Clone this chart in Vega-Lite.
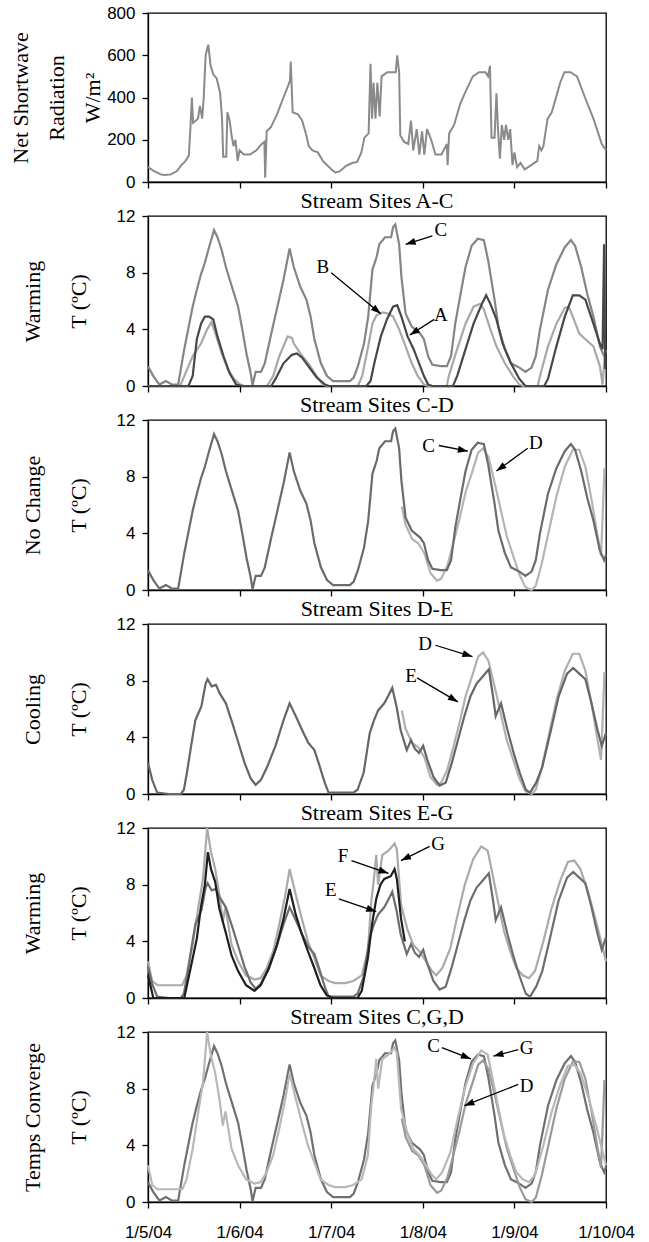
{
"$schema": "https://vega.github.io/schema/vega-lite/v6.json",
"background": "white",
"padding": {"left": 8, "top": 3, "right": 5, "bottom": 5},
"spacing": -2,
"datasets": {
"rad": [
{"h":0,"W":71},{"h":1.6,"W":52},{"h":3.3,"W":36},{"h":4.4,"W":33},{"h":6.0,"W":36},{"h":7.6,"W":52},{"h":8.7,"W":79},{"h":9.8,"W":99},{"h":10.7,"W":125},{"h":11.1,"W":250},{"h":11.5,"W":400},{"h":11.8,"W":280},{"h":12.5,"W":290},{"h":13.1,"W":300},{"h":13.6,"W":360},{"h":14.2,"W":300},{"h":14.6,"W":400},{"h":15.1,"W":600},{"h":15.8,"W":650},{"h":16.4,"W":550},{"h":17.1,"W":510},{"h":18.0,"W":490},{"h":18.9,"W":420},{"h":19.4,"W":300},{"h":19.7,"W":120},{"h":20.5,"W":120},{"h":20.8,"W":330},{"h":21.4,"W":290},{"h":21.9,"W":220},{"h":22.4,"W":170},{"h":22.9,"W":200},{"h":23.5,"W":100},{"h":24.0,"W":150},{"h":25.1,"W":130},{"h":26.7,"W":130},{"h":28.4,"W":150},{"h":29.8,"W":180},{"h":30.5,"W":190},{"h":30.7,"W":20},{"h":31.1,"W":240},{"h":32.2,"W":260},{"h":33.8,"W":320},{"h":35.5,"W":400},{"h":36.8,"W":460},{"h":37.2,"W":480},{"h":37.4,"W":570},{"h":37.9,"W":330},{"h":39.3,"W":320},{"h":40.4,"W":290},{"h":41.5,"W":220},{"h":42.1,"W":170},{"h":43.1,"W":150},{"h":44.5,"W":140},{"h":45.8,"W":100},{"h":48.0,"W":60},{"h":49.1,"W":45},{"h":50.2,"W":50},{"h":51.8,"W":75},{"h":53.5,"W":90},{"h":54.8,"W":95},{"h":55.9,"W":140},{"h":56.7,"W":210},{"h":57.8,"W":230},{"h":58.3,"W":560},{"h":58.7,"W":300},{"h":59.1,"W":470},{"h":59.6,"W":300},{"h":60.1,"W":470},{"h":60.7,"W":310},{"h":61.2,"W":500},{"h":62.7,"W":520},{"h":64.9,"W":520},{"h":65.3,"W":600},{"h":65.8,"W":520},{"h":66.1,"W":220},{"h":67.1,"W":190},{"h":68.2,"W":180},{"h":68.9,"W":290},{"h":69.5,"W":150},{"h":70.4,"W":250},{"h":71.1,"W":130},{"h":71.8,"W":240},{"h":72.4,"W":130},{"h":73.1,"W":250},{"h":74.2,"W":200},{"h":75.3,"W":130},{"h":76.9,"W":130},{"h":78.3,"W":180},{"h":78.5,"W":80},{"h":78.9,"W":230},{"h":80.2,"W":270},{"h":81.8,"W":370},{"h":83.5,"W":440},{"h":85.1,"W":500},{"h":86.7,"W":520},{"h":88.4,"W":520},{"h":89.1,"W":500},{"h":89.6,"W":550},{"h":90.0,"W":210},{"h":90.8,"W":210},{"h":91.3,"W":420},{"h":91.7,"W":250},{"h":92.2,"W":110},{"h":92.7,"W":270},{"h":93.3,"W":200},{"h":93.8,"W":270},{"h":94.4,"W":200},{"h":94.9,"W":250},{"h":95.5,"W":80},{"h":96.0,"W":140},{"h":96.7,"W":70},{"h":97.6,"W":90},{"h":98.7,"W":60},{"h":100.4,"W":80},{"h":102.0,"W":100},{"h":102.5,"W":170},{"h":103.1,"W":150},{"h":103.6,"W":170},{"h":104.7,"W":300},{"h":105.8,"W":330},{"h":106.9,"W":400},{"h":108.0,"W":470},{"h":109.1,"W":520},{"h":110.7,"W":520},{"h":112.4,"W":500},{"h":114.5,"W":400},{"h":116.7,"W":300},{"h":118.9,"W":180},{"h":120,"W":150}
],
"temp": [
{"s":"C","h":0,"T":1.4},{"s":"C","h":1.4,"T":0.7},{"s":"C","h":3.0,"T":0.1},{"s":"C","h":4.7,"T":0.35},{"s":"C","h":6.3,"T":0.1},{"s":"C","h":7.9,"T":0.1},{"s":"C","h":9.5,"T":2.6},{"s":"C","h":11.7,"T":5.6},{"s":"C","h":12.8,"T":6.8},{"s":"C","h":13.9,"T":7.9},{"s":"C","h":14.9,"T":8.7},{"s":"C","h":16.0,"T":9.8},{"s":"C","h":17.3,"T":11.0},{"s":"C","h":18.2,"T":10.5},{"s":"C","h":19.3,"T":9.6},{"s":"C","h":20.4,"T":8.4},{"s":"C","h":22.0,"T":7.0},{"s":"C","h":23.6,"T":5.6},{"s":"C","h":24.7,"T":4.0},{"s":"C","h":25.8,"T":2.3},{"s":"C","h":26.9,"T":0.9},{"s":"C","h":27.4,"T":0.05},{"s":"C","h":28.2,"T":1.0},{"s":"C","h":29.6,"T":1.0},{"s":"C","h":30.6,"T":1.6},{"s":"C","h":32.3,"T":3.7},{"s":"C","h":33.9,"T":5.6},{"s":"C","h":35.5,"T":7.5},{"s":"C","h":37.1,"T":9.7},{"s":"C","h":38.2,"T":8.4},{"s":"C","h":39.9,"T":7.0},{"s":"C","h":41.5,"T":6.1},{"s":"C","h":42.6,"T":4.9},{"s":"C","h":43.6,"T":3.3},{"s":"C","h":45.3,"T":1.6},{"s":"C","h":46.9,"T":0.7},{"s":"C","h":48.5,"T":0.35},{"s":"C","h":50.7,"T":0.35},{"s":"C","h":52.9,"T":0.35},{"s":"C","h":53.9,"T":0.6},{"s":"C","h":55.0,"T":1.4},{"s":"C","h":56.6,"T":3.0},{"s":"C","h":57.7,"T":4.9},{"s":"C","h":58.8,"T":8.2},{"s":"C","h":59.9,"T":9.1},{"s":"C","h":60.6,"T":10.0},{"s":"C","h":62.1,"T":10.5},{"s":"C","h":63.7,"T":10.5},{"s":"C","h":64.2,"T":11.2},{"s":"C","h":64.8,"T":11.4},{"s":"C","h":65.3,"T":10.7},{"s":"C","h":65.8,"T":10.0},{"s":"C","h":66.4,"T":7.7},{"s":"C","h":67.5,"T":5.1},{"s":"C","h":69.1,"T":4.2},{"s":"C","h":71.3,"T":3.7},{"s":"C","h":72.3,"T":3.3},{"s":"C","h":73.4,"T":2.1},{"s":"C","h":74.5,"T":1.5},{"s":"C","h":76.7,"T":1.4},{"s":"C","h":78.3,"T":1.4},{"s":"C","h":79.4,"T":2.1},{"s":"C","h":80.5,"T":4.4},{"s":"C","h":82.1,"T":6.8},{"s":"C","h":83.2,"T":8.4},{"s":"C","h":84.8,"T":9.9},{"s":"C","h":86.4,"T":10.4},{"s":"C","h":88.0,"T":10.3},{"s":"C","h":89.1,"T":8.9},{"s":"C","h":90.8,"T":6.1},{"s":"C","h":91.8,"T":4.2},{"s":"C","h":93.5,"T":2.6},{"s":"C","h":95.1,"T":1.6},{"s":"C","h":97.3,"T":1.3},{"s":"C","h":98.9,"T":1.0},{"s":"C","h":100.5,"T":1.3},{"s":"C","h":101.6,"T":2.1},{"s":"C","h":102.7,"T":4.0},{"s":"C","h":104.8,"T":6.8},{"s":"C","h":107.0,"T":8.6},{"s":"C","h":109.2,"T":9.8},{"s":"C","h":110.8,"T":10.3},{"s":"C","h":111.9,"T":9.9},{"s":"C","h":113.5,"T":8.4},{"s":"C","h":115.1,"T":6.5},{"s":"C","h":116.7,"T":4.9},{"s":"C","h":118.4,"T":2.8},{"s":"C","h":119.5,"T":2.1},{"s":"C","h":120,"T":2.5},
{"s":"A","h":0,"T":0},{"s":"A","h":10.6,"T":0},{"s":"A","h":11.7,"T":0.7},{"s":"A","h":12.8,"T":3.3},{"s":"A","h":13.9,"T":4.4},{"s":"A","h":14.9,"T":4.9},{"s":"A","h":16.0,"T":4.9},{"s":"A","h":17.1,"T":4.7},{"s":"A","h":18.2,"T":3.5},{"s":"A","h":19.8,"T":2.1},{"s":"A","h":21.4,"T":0.9},{"s":"A","h":23.1,"T":0.1},{"s":"A","h":24.7,"T":0},{"s":"A","h":32.3,"T":0},{"s":"A","h":33.4,"T":0.5},{"s":"A","h":35.5,"T":1.6},{"s":"A","h":37.7,"T":2.2},{"s":"A","h":39.0,"T":2.3},{"s":"A","h":40.4,"T":2.0},{"s":"A","h":42.0,"T":1.4},{"s":"A","h":44.2,"T":0.6},{"s":"A","h":46.4,"T":0.1},{"s":"A","h":47.4,"T":0},{"s":"A","h":57.2,"T":0},{"s":"A","h":58.3,"T":0.35},{"s":"A","h":59.3,"T":1.6},{"s":"A","h":61.0,"T":3.5},{"s":"A","h":62.6,"T":4.7},{"s":"A","h":64.2,"T":5.6},{"s":"A","h":65.3,"T":5.7},{"s":"A","h":66.4,"T":4.9},{"s":"A","h":68.0,"T":3.5},{"s":"A","h":69.6,"T":2.6},{"s":"A","h":71.3,"T":1.4},{"s":"A","h":72.3,"T":0.7},{"s":"A","h":73.4,"T":0.1},{"s":"A","h":74.5,"T":0},{"s":"A","h":79.9,"T":0},{"s":"A","h":81.0,"T":0.7},{"s":"A","h":83.2,"T":2.6},{"s":"A","h":85.3,"T":4.4},{"s":"A","h":87.5,"T":5.8},{"s":"A","h":88.6,"T":6.4},{"s":"A","h":89.7,"T":5.8},{"s":"A","h":91.3,"T":4.7},{"s":"A","h":92.9,"T":3.0},{"s":"A","h":95.1,"T":1.6},{"s":"A","h":97.3,"T":0.5},{"s":"A","h":98.9,"T":0},{"s":"A","h":103.8,"T":0},{"s":"A","h":104.8,"T":0.5},{"s":"A","h":107.0,"T":2.8},{"s":"A","h":109.2,"T":4.9},{"s":"A","h":111.3,"T":6.4},{"s":"A","h":113.0,"T":6.4},{"s":"A","h":114.6,"T":6.1},{"s":"A","h":116.7,"T":4.4},{"s":"A","h":118.4,"T":3.0},{"s":"A","h":119.1,"T":2.6},{"s":"A","h":119.5,"T":10.0},{"s":"A","h":119.8,"T":1.2},
{"s":"B","h":0,"T":0},{"s":"B","h":8.4,"T":0},{"s":"B","h":9.5,"T":0.7},{"s":"B","h":11.7,"T":2.1},{"s":"B","h":13.9,"T":3.0},{"s":"B","h":15.5,"T":4.0},{"s":"B","h":16.6,"T":4.5},{"s":"B","h":17.7,"T":3.7},{"s":"B","h":19.3,"T":2.3},{"s":"B","h":20.9,"T":1.2},{"s":"B","h":22.5,"T":0.5},{"s":"B","h":24.2,"T":0.1},{"s":"B","h":25.2,"T":0},{"s":"B","h":31.2,"T":0},{"s":"B","h":32.8,"T":0.7},{"s":"B","h":34.4,"T":2.1},{"s":"B","h":36.6,"T":3.5},{"s":"B","h":37.7,"T":3.4},{"s":"B","h":38.2,"T":3.0},{"s":"B","h":39.9,"T":2.3},{"s":"B","h":42.0,"T":1.6},{"s":"B","h":44.2,"T":0.7},{"s":"B","h":45.8,"T":0.1},{"s":"B","h":46.9,"T":0},{"s":"B","h":55.0,"T":0},{"s":"B","h":56.1,"T":0.7},{"s":"B","h":57.7,"T":2.8},{"s":"B","h":58.8,"T":4.4},{"s":"B","h":59.9,"T":5.0},{"s":"B","h":61.5,"T":5.2},{"s":"B","h":63.1,"T":5.1},{"s":"B","h":64.2,"T":4.9},{"s":"B","h":65.8,"T":4.0},{"s":"B","h":67.5,"T":2.8},{"s":"B","h":69.1,"T":1.6},{"s":"B","h":70.7,"T":0.7},{"s":"B","h":72.3,"T":0.1},{"s":"B","h":73.4,"T":0},{"s":"B","h":78.3,"T":0},{"s":"B","h":78.8,"T":0.7},{"s":"B","h":81.0,"T":2.6},{"s":"B","h":83.2,"T":4.4},{"s":"B","h":85.3,"T":5.6},{"s":"B","h":87.0,"T":5.8},{"s":"B","h":88.0,"T":5.4},{"s":"B","h":89.7,"T":4.0},{"s":"B","h":91.3,"T":2.8},{"s":"B","h":93.5,"T":1.6},{"s":"B","h":95.6,"T":0.7},{"s":"B","h":97.3,"T":0.1},{"s":"B","h":98.3,"T":0},{"s":"B","h":102.1,"T":0},{"s":"B","h":102.7,"T":0.7},{"s":"B","h":104.8,"T":2.8},{"s":"B","h":107.0,"T":4.4},{"s":"B","h":109.2,"T":5.5},{"s":"B","h":110.2,"T":5.6},{"s":"B","h":111.3,"T":4.9},{"s":"B","h":113.0,"T":3.7},{"s":"B","h":114.6,"T":3.3},{"s":"B","h":116.7,"T":2.8},{"s":"B","h":118.4,"T":1.4},{"s":"B","h":119.1,"T":0.1},{"s":"B","h":119.8,"T":2.6},
{"s":"D","h":66.5,"T":5.9},{"s":"D","h":67.5,"T":4.6},{"s":"D","h":69.2,"T":3.6},{"s":"D","h":70.8,"T":3.3},{"s":"D","h":72.4,"T":2.6},{"s":"D","h":74.0,"T":1.2},{"s":"D","h":75.7,"T":0.65},{"s":"D","h":76.8,"T":0.8},{"s":"D","h":78.4,"T":1.7},{"s":"D","h":80.0,"T":3.3},{"s":"D","h":81.6,"T":5.0},{"s":"D","h":83.2,"T":6.9},{"s":"D","h":84.9,"T":8.3},{"s":"D","h":86.5,"T":9.7},{"s":"D","h":87.8,"T":10.0},{"s":"D","h":89.2,"T":9.4},{"s":"D","h":90.8,"T":7.6},{"s":"D","h":92.4,"T":5.7},{"s":"D","h":94.0,"T":3.8},{"s":"D","h":95.7,"T":2.4},{"s":"D","h":97.3,"T":1.1},{"s":"D","h":98.9,"T":0.2},{"s":"D","h":100.5,"T":0},{"s":"D","h":101.6,"T":0.3},{"s":"D","h":103.2,"T":1.9},{"s":"D","h":104.9,"T":4.0},{"s":"D","h":107.0,"T":6.6},{"s":"D","h":109.2,"T":8.7},{"s":"D","h":111.3,"T":9.9},{"s":"D","h":113.0,"T":9.9},{"s":"D","h":114.6,"T":8.7},{"s":"D","h":116.2,"T":6.4},{"s":"D","h":117.8,"T":3.8},{"s":"D","h":118.7,"T":2.4},{"s":"D","h":119.6,"T":8.6},
{"s":"E","h":0,"T":2.2},{"s":"E","h":1.1,"T":1.0},{"s":"E","h":2.4,"T":0.1},{"s":"E","h":5.4,"T":0},{"s":"E","h":8.6,"T":0},{"s":"E","h":9.4,"T":0.3},{"s":"E","h":10.2,"T":1.5},{"s":"E","h":11.3,"T":3.4},{"s":"E","h":12.4,"T":5.2},{"s":"E","h":14.0,"T":6.2},{"s":"E","h":15.1,"T":7.8},{"s":"E","h":15.6,"T":8.1},{"s":"E","h":16.7,"T":7.6},{"s":"E","h":17.8,"T":7.7},{"s":"E","h":18.8,"T":7.1},{"s":"E","h":20.4,"T":6.4},{"s":"E","h":22.1,"T":5.0},{"s":"E","h":23.7,"T":3.6},{"s":"E","h":25.3,"T":2.2},{"s":"E","h":26.9,"T":1.1},{"s":"E","h":28.2,"T":0.65},{"s":"E","h":29.6,"T":1.0},{"s":"E","h":31.2,"T":1.9},{"s":"E","h":33.4,"T":3.4},{"s":"E","h":35.5,"T":5.2},{"s":"E","h":37.1,"T":6.4},{"s":"E","h":38.7,"T":5.5},{"s":"E","h":40.4,"T":4.5},{"s":"E","h":42.0,"T":3.6},{"s":"E","h":43.6,"T":3.1},{"s":"E","h":44.7,"T":2.2},{"s":"E","h":46.3,"T":0.8},{"s":"E","h":47.3,"T":0.1},{"s":"E","h":53.8,"T":0.1},{"s":"E","h":54.9,"T":0.3},{"s":"E","h":56.5,"T":1.5},{"s":"E","h":58.1,"T":4.3},{"s":"E","h":59.2,"T":5.2},{"s":"E","h":60.3,"T":5.9},{"s":"E","h":61.9,"T":6.4},{"s":"E","h":62.9,"T":6.9},{"s":"E","h":64.0,"T":7.5},{"s":"E","h":65.1,"T":6.2},{"s":"E","h":66.2,"T":4.5},{"s":"E","h":67.8,"T":3.1},{"s":"E","h":68.9,"T":3.8},{"s":"E","h":69.9,"T":3.2},{"s":"E","h":71.0,"T":2.9},{"s":"E","h":72.1,"T":3.4},{"s":"E","h":73.2,"T":2.4},{"s":"E","h":74.8,"T":1.2},{"s":"E","h":76.4,"T":0.6},{"s":"E","h":78.0,"T":0.8},{"s":"E","h":79.6,"T":2.2},{"s":"E","h":81.2,"T":3.8},{"s":"E","h":82.9,"T":5.5},{"s":"E","h":84.5,"T":6.9},{"s":"E","h":86.1,"T":7.8},{"s":"E","h":87.7,"T":8.3},{"s":"E","h":89.3,"T":8.8},{"s":"E","h":90.4,"T":6.9},{"s":"E","h":91.1,"T":5.5},{"s":"E","h":92.5,"T":6.4},{"s":"E","h":94.2,"T":4.5},{"s":"E","h":95.8,"T":2.9},{"s":"E","h":97.4,"T":1.5},{"s":"E","h":99.0,"T":0.3},{"s":"E","h":100.1,"T":0.1},{"s":"E","h":101.7,"T":0.8},{"s":"E","h":103.3,"T":1.9},{"s":"E","h":105.4,"T":4.3},{"s":"E","h":107.6,"T":6.9},{"s":"E","h":109.8,"T":8.5},{"s":"E","h":111.4,"T":8.9},{"s":"E","h":113.0,"T":8.5},{"s":"E","h":114.6,"T":8.1},{"s":"E","h":116.2,"T":6.4},{"s":"E","h":117.8,"T":4.5},{"s":"E","h":118.9,"T":3.4},{"s":"E","h":120,"T":4.3},
{"s":"F","h":0,"T":1.6},{"s":"F","h":1.4,"T":0},{"s":"F","h":9.5,"T":0},{"s":"F","h":10.6,"T":1.4},{"s":"F","h":12.8,"T":4.2},{"s":"F","h":13.8,"T":6.3},{"s":"F","h":14.9,"T":8.0},{"s":"F","h":15.7,"T":10.3},{"s":"F","h":16.5,"T":9.1},{"s":"F","h":17.6,"T":8.2},{"s":"F","h":18.7,"T":6.3},{"s":"F","h":20.3,"T":4.7},{"s":"F","h":21.9,"T":3.0},{"s":"F","h":23.6,"T":1.9},{"s":"F","h":25.7,"T":0.9},{"s":"F","h":27.9,"T":0.5},{"s":"F","h":29.5,"T":0.9},{"s":"F","h":31.7,"T":2.1},{"s":"F","h":33.8,"T":3.75},{"s":"F","h":35.5,"T":5.6},{"s":"F","h":37.1,"T":7.7},{"s":"F","h":38.7,"T":5.9},{"s":"F","h":40.3,"T":4.5},{"s":"F","h":41.9,"T":3.3},{"s":"F","h":43.6,"T":2.1},{"s":"F","h":45.2,"T":0.9},{"s":"F","h":46.8,"T":0.2},{"s":"F","h":48.4,"T":0},{"s":"F","h":54.9,"T":0},{"s":"F","h":56.0,"T":0.5},{"s":"F","h":57.6,"T":2.8},{"s":"F","h":58.7,"T":5.2},{"s":"F","h":59.8,"T":7.0},{"s":"F","h":60.9,"T":8.0},{"s":"F","h":61.9,"T":8.4},{"s":"F","h":63.6,"T":8.6},{"s":"F","h":64.6,"T":9.1},{"s":"F","h":65.2,"T":8.4},{"s":"F","h":66.3,"T":5.6},{"s":"F","h":67.3,"T":4.0},
{"s":"G","h":0,"T":2.6},{"s":"G","h":1.1,"T":1.2},{"s":"G","h":2.5,"T":0.9},{"s":"G","h":9.0,"T":0.9},{"s":"G","h":10.1,"T":1.6},{"s":"G","h":11.7,"T":3.75},{"s":"G","h":13.3,"T":6.6},{"s":"G","h":14.4,"T":8.4},{"s":"G","h":15.5,"T":12.0},{"s":"G","h":16.5,"T":10.3},{"s":"G","h":17.6,"T":9.1},{"s":"G","h":18.7,"T":7.3},{"s":"G","h":19.6,"T":5.4},{"s":"G","h":20.3,"T":6.4},{"s":"G","h":21.9,"T":3.75},{"s":"G","h":23.6,"T":2.6},{"s":"G","h":25.7,"T":1.6},{"s":"G","h":27.9,"T":1.3},{"s":"G","h":29.5,"T":1.4},{"s":"G","h":31.1,"T":2.1},{"s":"G","h":32.8,"T":3.3},{"s":"G","h":34.4,"T":5.2},{"s":"G","h":36.0,"T":7.3},{"s":"G","h":37.1,"T":9.1},{"s":"G","h":38.7,"T":7.3},{"s":"G","h":40.3,"T":5.6},{"s":"G","h":41.9,"T":4.0},{"s":"G","h":43.6,"T":2.8},{"s":"G","h":45.2,"T":1.6},{"s":"G","h":47.3,"T":1.2},{"s":"G","h":49.0,"T":1.05},{"s":"G","h":51.7,"T":1.05},{"s":"G","h":53.8,"T":1.2},{"s":"G","h":56.0,"T":1.6},{"s":"G","h":57.6,"T":3.3},{"s":"G","h":58.5,"T":6.8},{"s":"G","h":59.2,"T":8.4},{"s":"G","h":59.8,"T":10.1},{"s":"G","h":60.3,"T":8.0},{"s":"G","h":61.4,"T":10.1},{"s":"G","h":63.0,"T":10.4},{"s":"G","h":64.6,"T":10.9},{"s":"G","h":65.2,"T":10.5},{"s":"G","h":66.3,"T":6.6},{"s":"G","h":67.9,"T":4.9},{"s":"G","h":69.5,"T":3.75},{"s":"G","h":71.1,"T":3.3},{"s":"G","h":72.8,"T":2.6},{"s":"G","h":74.4,"T":1.9},{"s":"G","h":75.5,"T":1.6},{"s":"G","h":77.1,"T":2.1},{"s":"G","h":79.2,"T":3.5},{"s":"G","h":80.9,"T":5.6},{"s":"G","h":83.0,"T":8.0},{"s":"G","h":85.2,"T":9.8},{"s":"G","h":87.3,"T":10.7},{"s":"G","h":89.0,"T":10.4},{"s":"G","h":90.0,"T":9.1},{"s":"G","h":91.7,"T":6.8},{"s":"G","h":93.3,"T":4.7},{"s":"G","h":94.9,"T":3.3},{"s":"G","h":96.5,"T":2.1},{"s":"G","h":98.2,"T":1.6},{"s":"G","h":99.8,"T":1.4},{"s":"G","h":101.4,"T":1.9},{"s":"G","h":103.6,"T":4.0},{"s":"G","h":105.7,"T":6.3},{"s":"G","h":107.9,"T":8.2},{"s":"G","h":110.0,"T":9.6},{"s":"G","h":111.7,"T":9.7},{"s":"G","h":113.3,"T":9.1},{"s":"G","h":115.5,"T":7.3},{"s":"G","h":117.6,"T":5.2},{"s":"G","h":120,"T":2.6}
],
"notes": [
{"p":"AC","label":"C","lh":76.7,"lT":11.0,"h1":74.5,"T1":10.6,"h2":67.5,"T2":10.0},
{"p":"AC","label":"B","lh":45.8,"lT":8.4,"h1":48.0,"T1":8.0,"h2":61.0,"T2":5.1},
{"p":"AC","label":"A","lh":76.7,"lT":5.0,"h1":75.0,"T1":4.7,"h2":68.6,"T2":3.6},
{"p":"CD","label":"C","lh":73.5,"lT":10.2,"h1":76.2,"T1":10.2,"h2":83.8,"T2":9.8},
{"p":"CD","label":"D","lh":101.6,"lT":10.4,"h1":99.5,"T1":10.0,"h2":91.3,"T2":8.4},
{"p":"DE","label":"D","lh":72.6,"lT":10.6,"h1":75.3,"T1":10.5,"h2":85.0,"T2":9.7},
{"p":"DE","label":"E","lh":68.9,"lT":8.3,"h1":70.5,"T1":8.2,"h2":81.2,"T2":6.5},
{"p":"EG","label":"G","lh":76.0,"lT":10.9,"h1":73.8,"T1":10.7,"h2":66.3,"T2":9.7},
{"p":"EG","label":"F","lh":51.1,"lT":10.0,"h1":53.3,"T1":9.7,"h2":63.0,"T2":8.8},
{"p":"EG","label":"E","lh":47.9,"lT":7.6,"h1":50.0,"T1":7.0,"h2":59.8,"T2":6.1},
{"p":"CGD","label":"C","lh":74.8,"lT":11.0,"h1":77.0,"T1":10.9,"h2":84.6,"T2":10.1},
{"p":"CGD","label":"G","lh":99.2,"lT":10.9,"h1":97.0,"T1":10.75,"h2":90.5,"T2":10.3},
{"p":"CGD","label":"D","lh":99.2,"lT":8.2,"h1":97.0,"T1":8.3,"h2":82.9,"T2":6.8}
]
},
"vconcat": [
{
"width": 458, "height": 169,
"data": {"name": "rad"},
"mark": {"type": "line", "color": "#8a8a8a", "strokeWidth": 2},
"encoding": {
"x": {"field": "h", "type": "quantitative", "scale": {"domain": [0, 120], "nice": false}, "axis": {"values": [0, 24, 48, 72, 96, 120], "labels": false, "title": null}},
"y": {"field": "W", "type": "quantitative", "scale": {"domain": [0, 800], "nice": false}, "axis": {"values": [0, 200, 400, 600, 800], "title": ["Net Shortwave", "Radiation", "W/m²"], "titleLineHeight": 36, "titlePadding": 2}}
}
},
{
"title": {"text": "Stream Sites A-C", "offset": -6},
"width": 458, "height": 170,
"data": {"name": "temp"},
"encoding": {
"x": {"field": "h", "type": "quantitative", "scale": {"domain": [0, 120], "nice": false}, "axis": {"values": [0, 24, 48, 72, 96, 120], "labels": false, "title": null}},
"y": {"field": "T", "type": "quantitative", "scale": {"domain": [0, 12], "nice": false}, "axis": {"values": [0, 4, 8, 12], "title": ["Warming", "T (ºC)"], "titleLineHeight": 46, "titlePadding": 26}}
},
"layer": [
{"transform": [{"filter": "datum.s === 'C'"}], "mark": {"type": "line", "color": "#858585", "strokeWidth": 2.2}},
{"transform": [{"filter": "datum.s === 'B'"}], "mark": {"type": "line", "color": "#a8a8a8", "strokeWidth": 2.2}},
{"transform": [{"filter": "datum.s === 'A'"}], "mark": {"type": "line", "color": "#474747", "strokeWidth": 2.2}},
{"data": {"name": "notes"}, "transform": [{"filter": "datum.p === 'AC'"}], "mark": {"type": "rule", "color": "#000", "strokeWidth": 1.3}, "encoding": {"x": {"field": "h1", "type": "quantitative"}, "y": {"field": "T1", "type": "quantitative"}, "x2": {"field": "h2"}, "y2": {"field": "T2"}}},
{"data": {"name": "notes"}, "transform": [{"filter": "datum.p === 'AC'"}, {"calculate": "atan2((datum.h2 - datum.h1) * 458 / 120, (datum.T2 - datum.T1) * 170 / 12) * 180 / PI", "as": "ang"}], "mark": {"type": "point", "shape": "M0,0L-0.7,2L0.7,2Z", "filled": true, "color": "#000", "opacity": 1, "size": 100}, "encoding": {"x": {"field": "h2", "type": "quantitative"}, "y": {"field": "T2", "type": "quantitative"}, "angle": {"field": "ang", "type": "quantitative", "scale": null}}},
{"data": {"name": "notes"}, "transform": [{"filter": "datum.p === 'AC'"}], "mark": {"type": "text", "font": "Liberation Serif", "fontSize": 19, "color": "#000"}, "encoding": {"x": {"field": "lh", "type": "quantitative"}, "y": {"field": "lT", "type": "quantitative"}, "text": {"field": "label"}}}
]
},
{
"title": {"text": "Stream Sites C-D", "offset": -6},
"width": 458, "height": 170,
"data": {"name": "temp"},
"encoding": {
"x": {"field": "h", "type": "quantitative", "scale": {"domain": [0, 120], "nice": false}, "axis": {"values": [0, 24, 48, 72, 96, 120], "labels": false, "title": null}},
"y": {"field": "T", "type": "quantitative", "scale": {"domain": [0, 12], "nice": false}, "axis": {"values": [0, 4, 8, 12], "title": ["No Change", "T (ºC)"], "titleLineHeight": 46, "titlePadding": 26}}
},
"layer": [
{"transform": [{"filter": "datum.s === 'D'"}], "mark": {"type": "line", "color": "#b4b4b4", "strokeWidth": 2.2}},
{"transform": [{"filter": "datum.s === 'C'"}], "mark": {"type": "line", "color": "#6b6b6b", "strokeWidth": 2.2}},
{"data": {"name": "notes"}, "transform": [{"filter": "datum.p === 'CD'"}], "mark": {"type": "rule", "color": "#000", "strokeWidth": 1.3}, "encoding": {"x": {"field": "h1", "type": "quantitative"}, "y": {"field": "T1", "type": "quantitative"}, "x2": {"field": "h2"}, "y2": {"field": "T2"}}},
{"data": {"name": "notes"}, "transform": [{"filter": "datum.p === 'CD'"}, {"calculate": "atan2((datum.h2 - datum.h1) * 458 / 120, (datum.T2 - datum.T1) * 170 / 12) * 180 / PI", "as": "ang"}], "mark": {"type": "point", "shape": "M0,0L-0.7,2L0.7,2Z", "filled": true, "color": "#000", "opacity": 1, "size": 100}, "encoding": {"x": {"field": "h2", "type": "quantitative"}, "y": {"field": "T2", "type": "quantitative"}, "angle": {"field": "ang", "type": "quantitative", "scale": null}}},
{"data": {"name": "notes"}, "transform": [{"filter": "datum.p === 'CD'"}], "mark": {"type": "text", "font": "Liberation Serif", "fontSize": 19, "color": "#000"}, "encoding": {"x": {"field": "lh", "type": "quantitative"}, "y": {"field": "lT", "type": "quantitative"}, "text": {"field": "label"}}}
]
},
{
"title": {"text": "Stream Sites D-E", "offset": -6},
"width": 458, "height": 170,
"data": {"name": "temp"},
"encoding": {
"x": {"field": "h", "type": "quantitative", "scale": {"domain": [0, 120], "nice": false}, "axis": {"values": [0, 24, 48, 72, 96, 120], "labels": false, "title": null}},
"y": {"field": "T", "type": "quantitative", "scale": {"domain": [0, 12], "nice": false}, "axis": {"values": [0, 4, 8, 12], "title": ["Cooling", "T (ºC)"], "titleLineHeight": 46, "titlePadding": 26}}
},
"layer": [
{"transform": [{"filter": "datum.s === 'D'"}], "mark": {"type": "line", "color": "#b0b0b0", "strokeWidth": 2.2}},
{"transform": [{"filter": "datum.s === 'E'"}], "mark": {"type": "line", "color": "#666666", "strokeWidth": 2.2}},
{"data": {"name": "notes"}, "transform": [{"filter": "datum.p === 'DE'"}], "mark": {"type": "rule", "color": "#000", "strokeWidth": 1.3}, "encoding": {"x": {"field": "h1", "type": "quantitative"}, "y": {"field": "T1", "type": "quantitative"}, "x2": {"field": "h2"}, "y2": {"field": "T2"}}},
{"data": {"name": "notes"}, "transform": [{"filter": "datum.p === 'DE'"}, {"calculate": "atan2((datum.h2 - datum.h1) * 458 / 120, (datum.T2 - datum.T1) * 170 / 12) * 180 / PI", "as": "ang"}], "mark": {"type": "point", "shape": "M0,0L-0.7,2L0.7,2Z", "filled": true, "color": "#000", "opacity": 1, "size": 100}, "encoding": {"x": {"field": "h2", "type": "quantitative"}, "y": {"field": "T2", "type": "quantitative"}, "angle": {"field": "ang", "type": "quantitative", "scale": null}}},
{"data": {"name": "notes"}, "transform": [{"filter": "datum.p === 'DE'"}], "mark": {"type": "text", "font": "Liberation Serif", "fontSize": 19, "color": "#000"}, "encoding": {"x": {"field": "lh", "type": "quantitative"}, "y": {"field": "lT", "type": "quantitative"}, "text": {"field": "label"}}}
]
},
{
"title": {"text": "Stream Sites E-G", "offset": -6},
"width": 458, "height": 170,
"data": {"name": "temp"},
"encoding": {
"x": {"field": "h", "type": "quantitative", "scale": {"domain": [0, 120], "nice": false}, "axis": {"values": [0, 24, 48, 72, 96, 120], "labels": false, "title": null}},
"y": {"field": "T", "type": "quantitative", "scale": {"domain": [0, 12], "nice": false}, "axis": {"values": [0, 4, 8, 12], "title": ["Warming", "T (ºC)"], "titleLineHeight": 46, "titlePadding": 26}}
},
"layer": [
{"transform": [{"filter": "datum.s === 'G'"}], "mark": {"type": "line", "color": "#aaaaaa", "strokeWidth": 2.2}},
{"transform": [{"filter": "datum.s === 'E'"}], "mark": {"type": "line", "color": "#6e6e6e", "strokeWidth": 2.2}},
{"transform": [{"filter": "datum.s === 'F'"}], "mark": {"type": "line", "color": "#1e1e1e", "strokeWidth": 2.2}},
{"data": {"name": "notes"}, "transform": [{"filter": "datum.p === 'EG'"}], "mark": {"type": "rule", "color": "#000", "strokeWidth": 1.3}, "encoding": {"x": {"field": "h1", "type": "quantitative"}, "y": {"field": "T1", "type": "quantitative"}, "x2": {"field": "h2"}, "y2": {"field": "T2"}}},
{"data": {"name": "notes"}, "transform": [{"filter": "datum.p === 'EG'"}, {"calculate": "atan2((datum.h2 - datum.h1) * 458 / 120, (datum.T2 - datum.T1) * 170 / 12) * 180 / PI", "as": "ang"}], "mark": {"type": "point", "shape": "M0,0L-0.7,2L0.7,2Z", "filled": true, "color": "#000", "opacity": 1, "size": 100}, "encoding": {"x": {"field": "h2", "type": "quantitative"}, "y": {"field": "T2", "type": "quantitative"}, "angle": {"field": "ang", "type": "quantitative", "scale": null}}},
{"data": {"name": "notes"}, "transform": [{"filter": "datum.p === 'EG'"}], "mark": {"type": "text", "font": "Liberation Serif", "fontSize": 19, "color": "#000"}, "encoding": {"x": {"field": "lh", "type": "quantitative"}, "y": {"field": "lT", "type": "quantitative"}, "text": {"field": "label"}}}
]
},
{
"title": {"text": "Stream Sites C,G,D", "offset": -6},
"width": 458, "height": 170,
"data": {"name": "temp"},
"encoding": {
"x": {"field": "h", "type": "quantitative", "scale": {"domain": [0, 120], "nice": false}, "axis": {"values": [0, 24, 48, 72, 96, 120], "title": null, "labelFlush": false, "labelPadding": 16, "labelExpr": "['1/5/04','1/6/04','1/7/04','1/8/04','1/9/04','1/10/04'][round(datum.value / 24)]"}},
"y": {"field": "T", "type": "quantitative", "scale": {"domain": [0, 12], "nice": false}, "axis": {"values": [0, 4, 8, 12], "title": ["Temps Converge", "T (ºC)"], "titleLineHeight": 46, "titlePadding": 26}}
},
"layer": [
{"transform": [{"filter": "datum.s === 'C'"}], "mark": {"type": "line", "color": "#707070", "strokeWidth": 2.2}},
{"transform": [{"filter": "datum.s === 'D'"}], "mark": {"type": "line", "color": "#9a9a9a", "strokeWidth": 2.2}},
{"transform": [{"filter": "datum.s === 'G'"}], "mark": {"type": "line", "color": "#b8b8b8", "strokeWidth": 2.2}},
{"data": {"name": "notes"}, "transform": [{"filter": "datum.p === 'CGD'"}], "mark": {"type": "rule", "color": "#000", "strokeWidth": 1.3}, "encoding": {"x": {"field": "h1", "type": "quantitative"}, "y": {"field": "T1", "type": "quantitative"}, "x2": {"field": "h2"}, "y2": {"field": "T2"}}},
{"data": {"name": "notes"}, "transform": [{"filter": "datum.p === 'CGD'"}, {"calculate": "atan2((datum.h2 - datum.h1) * 458 / 120, (datum.T2 - datum.T1) * 170 / 12) * 180 / PI", "as": "ang"}], "mark": {"type": "point", "shape": "M0,0L-0.7,2L0.7,2Z", "filled": true, "color": "#000", "opacity": 1, "size": 100}, "encoding": {"x": {"field": "h2", "type": "quantitative"}, "y": {"field": "T2", "type": "quantitative"}, "angle": {"field": "ang", "type": "quantitative", "scale": null}}},
{"data": {"name": "notes"}, "transform": [{"filter": "datum.p === 'CGD'"}], "mark": {"type": "text", "font": "Liberation Serif", "fontSize": 19, "color": "#000"}, "encoding": {"x": {"field": "lh", "type": "quantitative"}, "y": {"field": "lT", "type": "quantitative"}, "text": {"field": "label"}}}
]
}
],
"config": {
"view": {"stroke": "#000", "strokeWidth": 1.3},
"axis": {"grid": false, "domainColor": "#000", "domainWidth": 1.3, "tickColor": "#000", "tickWidth": 1.3, "tickSize": 6, "labelColor": "#000", "labelFont": "Liberation Sans", "labelFontSize": 17, "labelPadding": 7, "titleColor": "#000", "titleFont": "Liberation Serif", "titleFontSize": 22, "titleFontWeight": "normal"},
"title": {"font": "Liberation Serif", "fontSize": 22, "fontWeight": "normal", "color": "#000"}
}
}
